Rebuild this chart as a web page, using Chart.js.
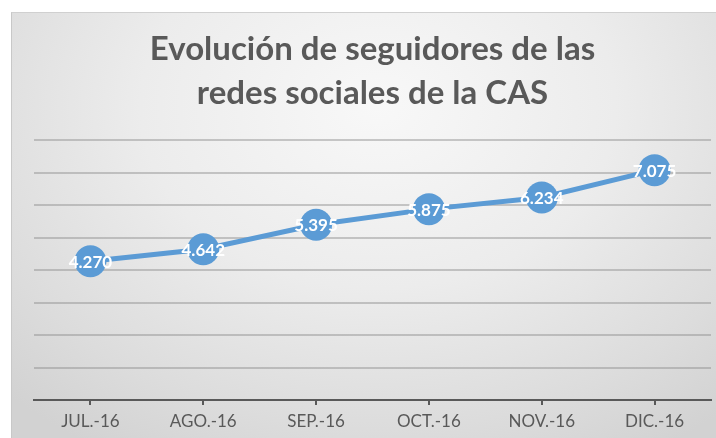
<!DOCTYPE html>
<html>
<head>
<meta charset="utf-8">
<script src="https://cdn.jsdelivr.net/npm/chart.js@4"></script>
<style>
  html, body { margin: 0; padding: 0; background: #fff; }
  #box {
    position: absolute; left: 11px; top: 12px; width: 705px; height: 426px;
    background: radial-gradient(ellipse 75% 95% at 52% 22%, #f8f8f8 0%, #ececec 45%, #dcdcdc 80%, #d2d2d2 100%);
    border-left: 1px solid #c8c8c8; border-top: 1px solid #d0d0d0;
    box-sizing: border-box;
  }
  canvas { position: absolute; left: 0; top: 0; }
</style>
</head>
<body>
<div id="box"><canvas id="c" width="704" height="425"></canvas></div>
<script>
// Datos
const meses = ['JUL.-16', 'AGO.-16', 'SEP.-16', 'OCT.-16', 'NOV.-16', 'DIC.-16'];
const seguidores = [4270, 4642, 5395, 5875, 6234, 7075];
const titulo = ['Evolución de seguidores de las', 'redes sociales de la CAS'];

const azul = '#5b9bd5';
const gris = '#595959';

// miles con punto: 4270 -> "4.270"
function miles(v) {
    return String(v).replace(/\B(?=(\d{3})+(?!\d))/g, '.');
}

// etiquetas blancas dentro de cada punto
const etiquetas = {
    id: 'etiquetas',
    afterDatasetsDraw(chart) {
        const ctx = chart.ctx;
        const meta = chart.getDatasetMeta(0);
        ctx.save();
        ctx.fillStyle = '#fff';
        ctx.font = 'bold 17px Lato';
        ctx.textAlign = 'center';
        ctx.textBaseline = 'middle';
        meta.data.forEach((pt, i) => {
            ctx.fillText(miles(seguidores[i]), pt.x, pt.y + 1);
        });
        ctx.restore();
    }
};

new Chart(document.getElementById('c').getContext('2d'), {
    type: 'line',
    data: {
        labels: meses,
        datasets: [{
            data: seguidores,
            borderColor: azul,
            borderWidth: 5,
            backgroundColor: azul,
            pointBackgroundColor: azul,
            pointBorderWidth: 0,
            pointRadius: 16,
            tension: 0,
            clip: false
        }]
    },
    options: {
        responsive: false,
        animation: false,
        layout: { autoPadding: false, padding: { left: 22, right: 5, top: 0, bottom: 0 } },
        plugins: {
            legend: { display: false },
            tooltip: { enabled: false },
            title: {
                display: true,
                text: titulo,
                color: gris,
                font: { family: 'Lato', size: 33, weight: 'bold', lineHeight: 1.35 },
                padding: { top: 14, bottom: 24 }
            }
        },
        scales: {
            x: {
                offset: true,
                grid: { drawOnChartArea: false, drawTicks: true, tickLength: 5, color: gris, lineWidth: 2 },
                border: { display: true, color: gris, width: 2 },
                ticks: { color: gris, font: { family: 'Lato', size: 17, lineHeight: 1 }, padding: 8 }
            },
            y: {
                min: 0,
                max: 8000,
                ticks: { display: false, stepSize: 1000 },
                grid: { drawTicks: false, color: 'rgba(140,140,140,0.45)', lineWidth: 2 },
                border: { display: false }
            }
        }
    },
    plugins: [etiquetas]
});
</script>
</body>
</html>
